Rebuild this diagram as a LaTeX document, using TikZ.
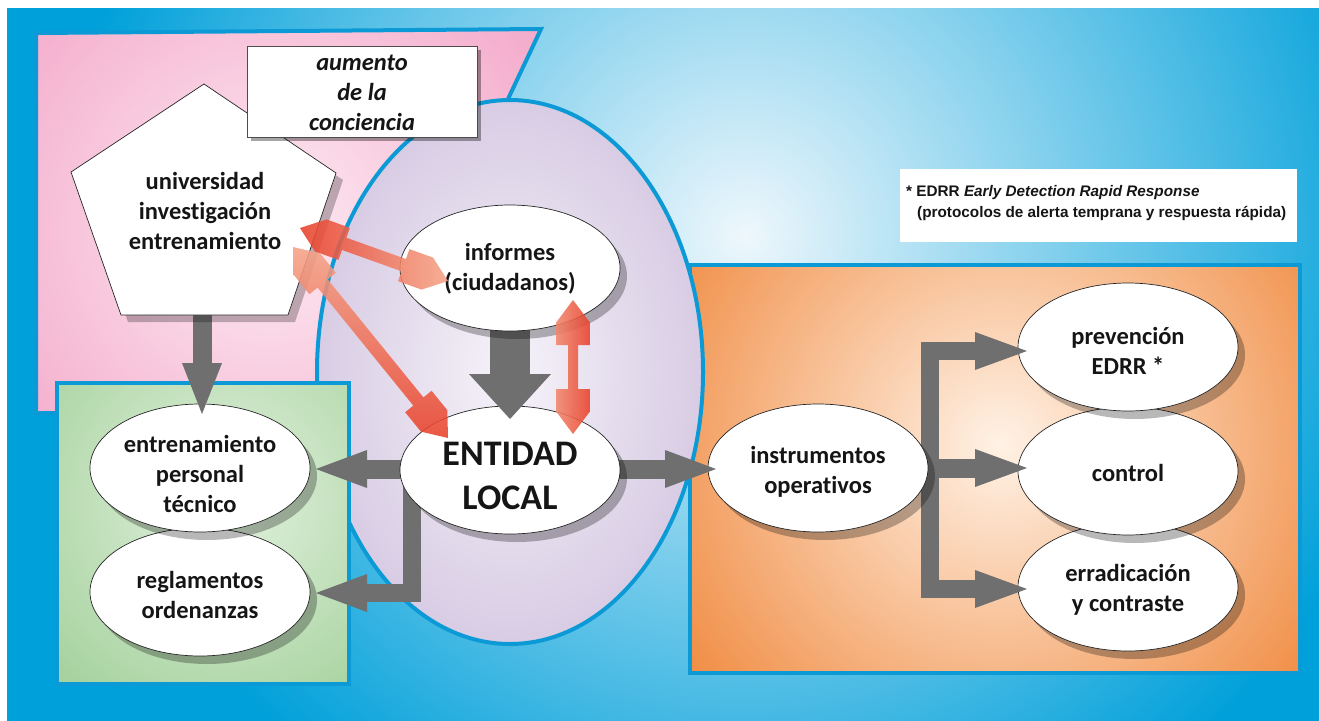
\documentclass[tikz,border=0pt]{standalone}
\usepackage{fontspec}
\setmainfont{Carlito}[Ligatures=NoCommon]
\newfontfamily\arialf{Liberation Sans}
\usetikzlibrary{calc,shapes.geometric,shadows}
\definecolor{bgblue}{HTML}{00A0DA}
\definecolor{bglight}{HTML}{EEF7FC}
\definecolor{lineblue}{HTML}{0C9AD6}
\definecolor{pinkA}{HTML}{F4ABCB}
\definecolor{pinkB}{HTML}{FDEBF3}
\definecolor{lavA}{HTML}{D8CCE4}
\definecolor{lavB}{HTML}{F6F3F9}
\definecolor{greenA}{HTML}{A6D29E}
\definecolor{greenB}{HTML}{E2F1DE}
\definecolor{orA}{HTML}{EF8436}
\definecolor{orB}{HTML}{FFF2E6}
\definecolor{arrgray}{HTML}{6F6F6F}
\definecolor{redA}{HTML}{E8412B}
\definecolor{redB}{HTML}{F5A387}
\definecolor{txt}{HTML}{151515}
\pgfdeclarelayer{panels}
\pgfdeclarelayer{shafts}
\pgfdeclarelayer{front}
\pgfsetlayers{panels,shafts,main,front}
\tikzset{
  lbl/.style={font=\fontsize{24.5}{30}\selectfont\bfseries, text=txt, align=center, inner sep=0pt},
  biglbl/.style={lbl, font=\fontsize{36}{44}\selectfont\bfseries},
  bub/.style={ellipse, draw=black!85, line width=0.7pt, fill=white,
    minimum width=220pt, minimum height=128pt, inner sep=0pt, outer sep=0pt,
    drop shadow={shadow xshift=7pt, shadow yshift=-8pt, opacity=0.28, fill=black}},
  shaft/.style={draw=arrgray, line width=19pt, line cap=butt, line join=miter},
  panelline/.style={draw=lineblue, line width=4pt, line join=miter},
  redfill/.style={fill opacity=0.88}
}
\newcommand\ghead[3]{\fill[arrgray] (#1) -- ($(#2)!#3!90:(#1)$) -- ($(#2)!#3!-90:(#1)$) -- cycle;}
\newcommand\redarr[7]{%
  \shade[#7] (#1)
   -- ($(#1)!#5!(#2)!#3!90:(#2)$)
   -- ($(#1)!#6!(#2)!#3!90:(#2)$)
   -- ($(#1)!#6!(#2)!#4!90:(#2)$)
   -- ($(#2)!#6!(#1)!#4!-90:(#1)$)
   -- ($(#2)!#6!(#1)!#3!-90:(#1)$)
   -- ($(#2)!#5!(#1)!#3!-90:(#1)$)
   -- (#2)
   -- ($(#2)!#5!(#1)!#3!90:(#1)$)
   -- ($(#2)!#6!(#1)!#3!90:(#1)$)
   -- ($(#2)!#6!(#1)!#4!90:(#1)$)
   -- ($(#1)!#6!(#2)!#4!-90:(#2)$)
   -- ($(#1)!#6!(#2)!#3!-90:(#2)$)
   -- ($(#1)!#5!(#2)!#3!-90:(#2)$)
   -- cycle;}
\begin{document}
\begin{tikzpicture}[x=1pt,y=-1pt]
\useasboundingbox (0,0) rectangle (1319,720);
\begin{pgfonlayer}{panels}
  \fill[white] (-5,-5) rectangle (1325,726);
  \begin{scope}
    \clip (7,8) rectangle (1326,727);
    \fill[bgblue] (7,8) rectangle (1326,727);
    \shade[inner color=bglight, outer color=bgblue] (745,235) circle (680);
  \end{scope}
  % pink panel
  \begin{scope}
    \clip (36,33) -- (541,29) -- (360,413) -- (36,413) -- cycle;
    \fill[pinkA] (0,0) rectangle (600,450);
    \shade[inner color=pinkB, outer color=pinkA] (270,230) circle (330);
  \end{scope}
  \draw[panelline] (36,33) -- (541,29) -- (360,413) -- (36,413) -- cycle;
  % orange panel
  \begin{scope}
    \clip (690,265) rectangle (1300,673);
    \fill[orA] (690,265) rectangle (1300,673);
    \shade[inner color=orB, outer color=orA] (1000,445) circle (420);
  \end{scope}
  \draw[panelline] (690,265) rectangle (1300,673);
  % lavender ellipse
  \shade[inner color=lavB, outer color=lavA] (510,372) ellipse [x radius=193, y radius=272];
  \draw[lineblue, line width=4pt] (510,372) ellipse [x radius=193, y radius=272];
  % green panel
  \begin{scope}
    \clip (57,383) rectangle (349,684);
    \fill[greenA] (57,383) rectangle (349,684);
    \shade[inner color=greenB, outer color=greenA] (225,500) circle (240);
  \end{scope}
  \draw[panelline] (57,383) rectangle (349,684);
\end{pgfonlayer}

% pentagon
\fill[black, opacity=0.25, shift={(7,7)}] (204,84) -- (336,173) -- (288,315) -- (121,315) -- (71,172) -- cycle;
\filldraw[fill=white, draw=black!85, line width=0.7pt] (204,84) -- (336,173) -- (288,315) -- (121,315) -- (71,172) -- cycle;
\coordinate (pentbot) at (202,315);
\node[lbl] (univ) at (205,211) {universidad\\investigación\\entrenamiento};

% aumento box
\fill[black, opacity=0.35] (251,50) rectangle (481,141);
\filldraw[fill=white, draw=black!70, line width=0.7pt] (247,46) rectangle (477,137);
\node[lbl, font=\fontsize{24.5}{30}\selectfont\bfseries\itshape] (aum) at (362,93) {aumento\\de la\\conciencia};

% footnote box
\fill[white] (900,169) rectangle (1297,242);
\node[anchor=base west, font={\arialf\bfseries\fontsize{15.3}{21}\selectfont}, text=txt, inner sep=0pt] (note1) at (906,196) {* EDRR \textit{Early Detection Rapid Response}};
\node[anchor=base west, font={\arialf\bfseries\fontsize{15.3}{21}\selectfont}, text=txt, inner sep=0pt] (note2) at (917,217) {(protocolos de alerta temprana y respuesta rápida)};

% ellipse nodes (shape) and their texts
\node[bub] (regl) at (200,592) {};
\node[lbl] (reglT) at ($(regl)+(0,3)$) {reglamentos\\ordenanzas};
\node[bub] (entr) at (200,468) {};
\node[lbl] (entrT) at ($(entr)+(0,6)$) {entrenamiento\\personal\\técnico};
\node[bub] (errad) at (1128,587) {};
\node[lbl] (erradT) at ($(errad)+(0,3)$) {erradicación\\y contraste};
\node[bub] (ctrl) at (1128,471) {};
\node[lbl] (ctrlT) at ($(ctrl)+(0,2)$) {control};
\node[bub] (prev) at (1128,347) {};
\node[lbl] (prevT) at ($(prev)+(0,4)$) {prevención\\EDRR *};
\node[bub] (instr) at (818,468) {};
\node[lbl] (instrT) at ($(instr)+(0,4)$) {instrumentos\\operativos};
\node[bub] (ent) at (510,470) {};
\node[biglbl] (entT) at ($(ent)+(0,6)$) {ENTIDAD\\LOCAL};
\node[bub, minimum height=126pt] (inf) at (510,268) {};
\node[lbl] (infT) at ($(inf)+(0,1)$) {informes\\(ciudadanos)};

% arrow coordinates
\coordinate (a1t) at ($(entr.north)+(2,10)$);
\coordinate (a1b) at ($(a1t)+(0,-51)$);
\coordinate (a2t) at ($(ent.north)+(0,13)$);
\coordinate (a2b) at ($(a2t)+(0,-45)$);
\coordinate (a3t) at ($(entr.east)+(6,1)$);
\coordinate (a3b) at ($(a3t)+(51,0)$);
\coordinate (a4t) at ($(regl.east)+(6,1)$);
\coordinate (a4b) at ($(a4t)+(51,0)$);
\coordinate (a5t) at ($(instr.west)+(8,1)$);
\coordinate (a5b) at ($(a5t)+(-51,0)$);
\coordinate (a6at) at ($(prev.west)+(9,4)$);
\coordinate (a6ab) at ($(a6at)+(-52,0)$);
\coordinate (a6bt) at ($(ctrl.west)+(9,-3)$);
\coordinate (a6bb) at ($(a6bt)+(-52,0)$);
\coordinate (a6ct) at ($(errad.west)+(9,2)$);
\coordinate (a6cb) at ($(a6ct)+(-52,0)$);

\begin{pgfonlayer}{shafts}
  \draw[shaft] ($(a1b |- pentbot)+(0,-4)$) -- (a1b);
  \draw[shaft, line width=40pt] (inf.center) -- (a2b);
  \draw[shaft] (ent.center |- a3b) -- (a3b);
  \draw[shaft, line width=18pt] ($(ent.center)+(-98,0)$) |- (a4b);
  \draw[shaft] (ent.center |- a5b) -- (a5b);
  \draw[shaft, line width=18pt] (a6ab) -| ($(instr.center)+(112,0)$) |- (a6cb);
  \draw[shaft] (instr.center |- a6bb) -- (a6bb);
\end{pgfonlayer}

\begin{pgfonlayer}{front}
  \ghead{a1t}{a1b}{20pt}
  \ghead{a2t}{a2b}{41pt}
  \ghead{a3t}{a3b}{19pt}
  \ghead{a4t}{a4b}{19pt}
  \ghead{a5t}{a5b}{19pt}
  \ghead{a6at}{a6ab}{19pt}
  \ghead{a6bt}{a6bb}{19pt}
  \ghead{a6ct}{a6cb}{19pt}
  % red double arrows
  \coordinate (ra1) at ($(univ)+(95,17)$);
  \coordinate (ra2) at ($(inf.west)+(48,13)$);
  \coordinate (rb1) at ($(univ)+(88,36)$);
  \coordinate (rb2) at ($(ent)+(-62,-32)$);
  \coordinate (rc1) at ($(inf.south)+(63,-31)$);
  \coordinate (rc2) at ($(ent.north)+(63,28)$);
  \redarr{ra1}{ra2}{17pt}{6.5pt}{22pt}{47pt}{redfill, left color=redA, right color=redB}
  \redarr{rb1}{rb2}{17pt}{6.5pt}{22pt}{47pt}{redfill, top color=redB, bottom color=redA}
  \redarr{rc1}{rc2}{16.5pt}{5pt}{22pt}{45pt}{redfill, left color=redB!70!redA, right color=redA}
\end{pgfonlayer}
\end{tikzpicture}
\end{document}
